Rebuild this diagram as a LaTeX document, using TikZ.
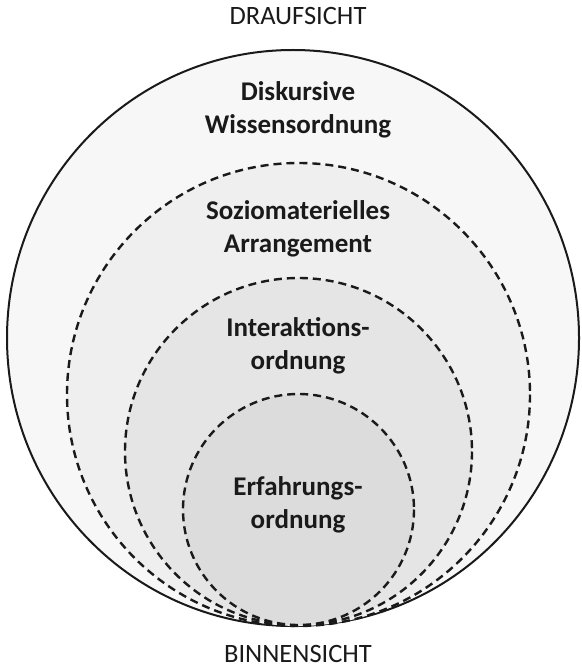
\documentclass[tikz,border=0pt]{standalone}
\usepackage{fontspec}
\setmainfont{Carlito}
\definecolor{ink}{HTML}{1A1A1A}
\definecolor{fillA}{HTML}{F7F7F7}
\definecolor{fillB}{HTML}{EFEFEF}
\definecolor{fillC}{HTML}{E5E5E5}
\definecolor{fillD}{HTML}{DCDCDC}
\tikzset{
  ring/.style={draw=ink, line width=2.4pt, dash pattern=on 8pt off 5pt},
  outerring/.style={draw=ink, line width=2pt},
  label/.style={text=ink, align=center, font=\fontsize{27}{33}\selectfont\bfseries},
  side/.style={text=ink, anchor=base, inner sep=0pt, font=\fontsize{26.5}{30}\selectfont},
}
\begin{document}
\begin{tikzpicture}[x=1pt,y=-1pt]
\useasboundingbox (0,0) rectangle (581,668);
\draw[outerring, fill=fillA] (293,338) ellipse [x radius=286, y radius=288];
\draw[ring, fill=fillB] (298.5,394.5) circle [radius=231.5];
\draw[ring, fill=fillC] (298.5,451.5) circle [radius=173.5];
\draw[ring, fill=fillD] (298.5,509.5) circle [radius=115.5];
\node[side] (top) at (298,25) {DRAUFSICHT};
\node[side] (bottom) at (298,662) {BINNENSICHT};
\node[label] (l1) at (298,110) {Diskursive\\Wissensordnung};
\node[label] (l2) at (298,229) {Soziomaterielles\\Arrangement};
\node[label] (l3) at (298,346) {Interaktions-\\ordnung};
\node[label] (l4) at (298,505) {Erfahrungs-\\ordnung};
\end{tikzpicture}
\end{document}
